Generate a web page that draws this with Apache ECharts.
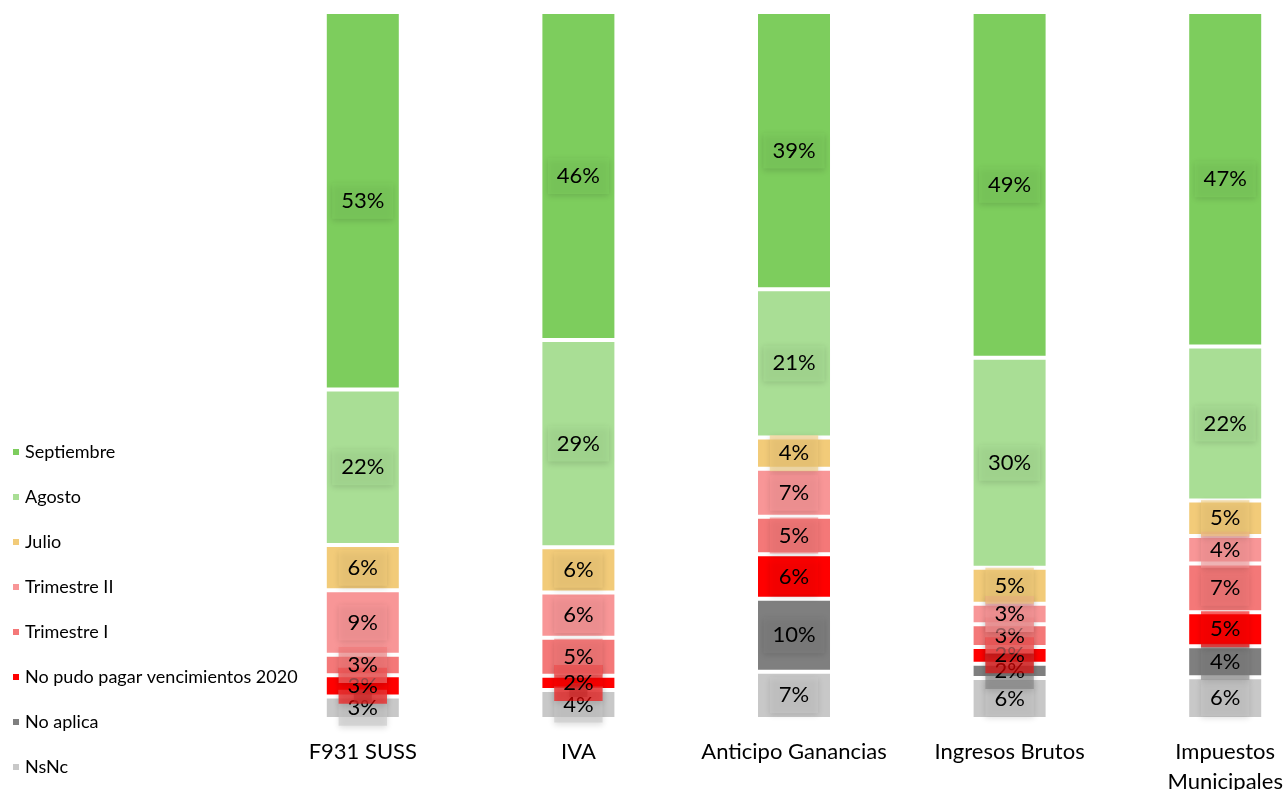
<!DOCTYPE html>
<html>
<head>
<meta charset="utf-8">
<script src="https://cdn.jsdelivr.net/npm/echarts@6/dist/echarts.min.js"></script>
<style>
  html, body { margin: 0; padding: 0; background: #fff; overflow: hidden; }
  #chart { width: 1340px; height: 790px; }
</style>
</head>
<body>
<div id="chart"></div>
<script>
// categorías (eje X)
const categories = ['F931 SUSS', 'IVA', 'Anticipo Ganancias', 'Ingresos Brutos', 'Impuestos\nMunicipales'];

// porcentajes por serie, de abajo hacia arriba en la pila
const nsnc       = [3.2, 4.1, 6.7, 5.8, 5.9];
const noAplica   = [0,   0,   10.3, 2.0, 4.4];
const noPudo     = [3.0, 2.0, 6.3, 2.4, 4.8];
const trimI      = [2.9, 5.4, 5.3, 3.2, 6.9];
const trimII     = [9.1, 6.4, 6.8, 2.9, 3.9];
const julio      = [6.4, 6.4, 4.4, 5.1, 5.0];
const agosto     = [22.0, 29.3, 21.0, 29.7, 21.8];
const septiembre = [53.4, 46.4, 39.2, 48.9, 47.3];

const seriesDefs = [
  { name: 'NsNc', data: nsnc, color: '#c8c8c8', rgb: '200,200,200' },
  { name: 'No aplica', data: noAplica, color: '#7f7f7f', rgb: '127,127,127' },
  { name: 'No pudo pagar vencimientos 2020', data: noPudo, color: '#ff0000', rgb: '255,0,0' },
  { name: 'Trimestre I', data: trimI, color: '#f47878', rgb: '244,120,120' },
  { name: 'Trimestre II', data: trimII, color: '#f89697', rgb: '248,150,151' },
  { name: 'Julio', data: julio, color: '#f2cb79', rgb: '242,203,121' },
  { name: 'Agosto', data: agosto, color: '#a9de95', rgb: '169,222,149' },
  { name: 'Septiembre', data: septiembre, color: '#7dcd5d', rgb: '125,205,93' }
];

const chart = echarts.init(document.getElementById('chart'));

const series = seriesDefs.map(s => ({
  name: s.name,
  type: 'bar',
  stack: 'total',
  barWidth: 76,
  data: s.data,
  itemStyle: {
    color: s.color,
    borderColor: '#ffffff',
    borderWidth: 2
  },
  label: {
    show: true,
    position: 'inside',
    formatter: p => (p.value > 0 ? Math.round(p.value) + '%' : ''),
    fontFamily: 'Lato',
    fontSize: 22,
    color: '#000',
    backgroundColor: 'rgba(' + s.rgb + ',0.6)',
    padding: [8, 9, 6, 9],
    shadowBlur: 6,
    shadowColor: 'rgba(0,0,0,0.22)',
    shadowOffsetY: 2
  },
  emphasis: { disabled: true }
}));

const option = {
  animation: false,
  textStyle: { fontFamily: 'Lato' },
  legend: {
    orient: 'vertical',
    left: 6,
    top: 437,
    itemWidth: 8,
    itemHeight: 8,
    itemGap: 25,
    icon: 'rect',
    data: seriesDefs.map(s => s.name).reverse(),
    textStyle: { fontSize: 18, color: '#000', lineHeight: 20 }
  },
  grid: {
    left: 255,
    top: 12,
    width: 1078,
    bottom: 71,
    outerBoundsMode: 'none'
  },
  xAxis: {
    type: 'category',
    data: categories,
    axisLine: { show: false },
    axisTick: { show: false },
    axisLabel: {
      fontSize: 22,
      color: '#000',
      margin: 18,
      lineHeight: 30,
      interval: 0
    }
  },
  yAxis: {
    type: 'value',
    min: 0,
    max: 100,
    show: false
  },
  series: series
};

chart.setOption(option);
</script>
</body>
</html>
